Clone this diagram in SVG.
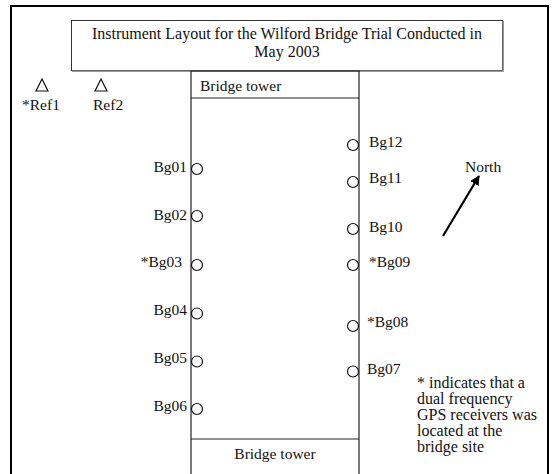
<svg xmlns="http://www.w3.org/2000/svg" width="554" height="474" viewBox="0 0 554 474">
<style>
text{font-family:"Liberation Serif","Times New Roman",serif;font-size:15.5px;fill:#111}
.big{font-size:16px}
.st{fill:#fff;stroke:#111;stroke-width:1.2}
.ln{fill:none;stroke:#222;stroke-width:1.2}
</style>
<defs>
<marker id="ah" viewBox="0 0 10 10" refX="9" refY="5" markerWidth="4.5" markerHeight="4.5" orient="auto" markerUnits="strokeWidth">
<path d="M0,0 L10,5 L0,10 z" fill="#000"/>
</marker>
</defs>
<rect width="554" height="474" fill="#fff"/>
<path id="frame" d="M11,474 V6 H548 V474" fill="none" stroke="#000" stroke-width="2"/>
<g id="title">
<rect x="71.5" y="20.5" width="431" height="50" fill="#fff" stroke="#333" stroke-width="1"/>
<path d="M72,71 H503 V21" fill="none" stroke="#777" stroke-width="1.5"/>
<text class="big" x="287" y="39" text-anchor="middle">Instrument Layout for the Wilford Bridge Trial Conducted in</text>
<text class="big" x="287" y="57" text-anchor="middle">May 2003</text>
</g>
<g id="bridge">
<path class="ln" d="M191,474 V71 H359 V474 M191,98 H359 M191,439 H359"/>
<text x="200" y="91">Bridge tower</text>
<text x="275" y="459" text-anchor="middle">Bridge tower</text>
</g>
<g id="Ref1"><polygon class="st" points="42,79 36,91 48,91"/><text x="22" y="110">*Ref1</text></g>
<g id="Ref2"><polygon class="st" points="101,79 95,91 107,91"/><text x="93" y="110">Ref2</text></g>
<g id="Bg01"><circle class="st" cx="197" cy="169" r="5.5"/><text x="187" y="172" text-anchor="end">Bg01</text></g>
<g id="Bg02"><circle class="st" cx="197" cy="216" r="5.5"/><text x="187" y="220" text-anchor="end">Bg02</text></g>
<g id="Bg03"><circle class="st" cx="197" cy="265" r="5.5"/><text x="182" y="267" text-anchor="end">*Bg03</text></g>
<g id="Bg04"><circle class="st" cx="197" cy="313.5" r="5.5"/><text x="187" y="315" text-anchor="end">Bg04</text></g>
<g id="Bg05"><circle class="st" cx="197" cy="361.5" r="5.5"/><text x="187" y="363" text-anchor="end">Bg05</text></g>
<g id="Bg06"><circle class="st" cx="197" cy="409" r="5.5"/><text x="187" y="411" text-anchor="end">Bg06</text></g>
<g id="Bg12"><circle class="st" cx="353" cy="145" r="5.5"/><text x="369" y="147">Bg12</text></g>
<g id="Bg11"><circle class="st" cx="353" cy="182" r="5.5"/><text x="369" y="183">Bg11</text></g>
<g id="Bg10"><circle class="st" cx="353" cy="229" r="5.5"/><text x="369" y="232">Bg10</text></g>
<g id="Bg09"><circle class="st" cx="353" cy="265" r="5.5"/><text x="369" y="267">*Bg09</text></g>
<g id="Bg08"><circle class="st" cx="353" cy="326" r="5.5"/><text x="367" y="327">*Bg08</text></g>
<g id="Bg07"><circle class="st" cx="353" cy="371.5" r="5.5"/><text x="367" y="374">Bg07</text></g>
<g id="north">
<text x="465" y="172">North</text>
</g>
<g id="connectors">
<line x1="443" y1="236" x2="479" y2="176" stroke="#000" stroke-width="2.2" marker-end="url(#ah)"/>
</g>
<g id="note">
<text class="big" x="417" y="388">* indicates that a</text>
<text class="big" x="417" y="404">dual frequency</text>
<text class="big" x="417" y="420">GPS receivers was</text>
<text class="big" x="417" y="436">located at the</text>
<text class="big" x="417" y="452">bridge site</text>
</g>
</svg>
